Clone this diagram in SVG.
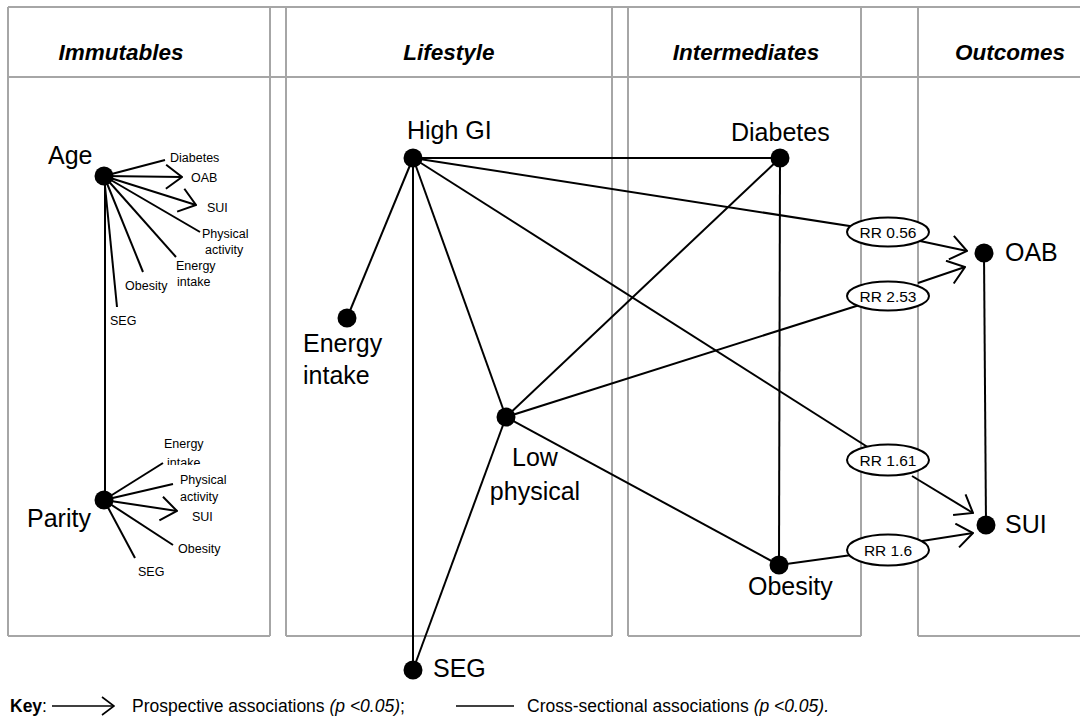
<svg xmlns="http://www.w3.org/2000/svg" width="1080" height="717" viewBox="0 0 1080 717">
<style>
.frame{stroke:#a6a6a6;stroke-width:2;fill:none}
.hdr{font-family:"Liberation Sans",Arial,sans-serif;font-size:22.5px;font-weight:bold;font-style:italic;text-anchor:middle;fill:#000}
.lbl{font-family:"Liberation Sans",Arial,sans-serif;font-size:25px;fill:#000}
.sm{font-family:"Liberation Sans",Arial,sans-serif;font-size:12.5px;fill:#000}
.rr{font-family:"Liberation Sans",Arial,sans-serif;font-size:15.5px;fill:#000;text-anchor:middle}
.key{font-family:"Liberation Sans",Arial,sans-serif;font-size:17.5px;fill:#000}
.ln{stroke:#000;stroke-width:2;fill:none}
.arr{stroke:#000;stroke-width:2;fill:none;marker-end:url(#oa)}
.dot{fill:#000}
.ell{fill:#fff;stroke:#000;stroke-width:2}
</style>
<defs>
<marker id="oa" viewBox="0 0 18 26" markerWidth="18" markerHeight="26" refX="17" refY="13" orient="auto" markerUnits="userSpaceOnUse">
<path d="M1,1 L17,13 L1,25" fill="none" stroke="#000" stroke-width="2"/>
</marker>
<marker id="oas" viewBox="0 0 14 20" markerWidth="14" markerHeight="20" refX="13" refY="10" orient="auto" markerUnits="userSpaceOnUse">
<path d="M1,1 L13,10 L1,19" fill="none" stroke="#000" stroke-width="1.6"/>
</marker>
<clipPath id="clipIntake"><rect x="150" y="450" width="80" height="15"/></clipPath>
</defs>
<rect width="1080" height="717" fill="#fff"/>

<g id="table">
<path class="frame" d="M8,7 H1080 M8,77 H1080 M8,7 V636 M270,7 V636 M286,7 V636 M612,7 V636 M628,7 V636 M861,7 V636 M918,7 V636 M8,636 H270 M286,636 H612 M628,636 H861 M918,636 H1080"/>
<text class="hdr" x="121" y="60">Immutables</text>
<text class="hdr" x="449" y="60">Lifestyle</text>
<text class="hdr" x="746" y="60">Intermediates</text>
<text class="hdr" x="1010" y="60">Outcomes</text>
</g>

<g id="connectors">
<line class="ln" x1="105" y1="176" x2="105" y2="500"/>
<line class="ln" x1="104" y1="176" x2="165" y2="160"/>
<line class="arr" x1="104" y1="176" x2="182" y2="177"/>
<line class="arr" x1="104" y1="176" x2="196" y2="205"/>
<line class="ln" x1="104" y1="176" x2="200" y2="232"/>
<line class="ln" x1="104" y1="176" x2="176" y2="257"/>
<line class="ln" x1="104" y1="176" x2="143" y2="272"/>
<line class="ln" x1="104" y1="176" x2="117" y2="307"/>
<line class="ln" x1="104" y1="500" x2="163" y2="463"/>
<line class="ln" x1="104" y1="500" x2="173" y2="484"/>
<line class="arr" x1="104" y1="500" x2="177" y2="511"/>
<line class="ln" x1="104" y1="500" x2="173" y2="545"/>
<line class="ln" x1="104" y1="500" x2="135" y2="558"/>
<line class="ln" x1="413" y1="158" x2="780" y2="158"/>
<line class="ln" x1="413" y1="158" x2="888" y2="232"/>
<line class="ln" x1="413" y1="158" x2="347" y2="318"/>
<line class="ln" x1="413" y1="158" x2="506" y2="417"/>
<line class="ln" x1="413" y1="158" x2="413" y2="670"/>
<line class="ln" x1="413" y1="158" x2="888" y2="460"/>
<line class="ln" x1="506" y1="417" x2="780" y2="158"/>
<line class="ln" x1="506" y1="417" x2="888" y2="296"/>
<line class="ln" x1="506" y1="417" x2="779" y2="565"/>
<line class="ln" x1="506" y1="417" x2="413" y2="670"/>
<line class="ln" x1="780" y1="158" x2="779" y2="565"/>
<line class="ln" x1="779" y1="565" x2="888" y2="550"/>
<line class="ln" x1="984" y1="253" x2="986" y2="525"/>
<line class="arr" x1="920" y1="241" x2="967" y2="251"/>
<line class="arr" x1="918" y1="283" x2="965" y2="267"/>
<line class="arr" x1="912" y1="476" x2="973" y2="513"/>
<line class="arr" x1="922" y1="541" x2="973" y2="533"/>
</g>

<g id="rr056"><ellipse class="ell" cx="888" cy="232" rx="41" ry="14.5"/><text class="rr" x="888" y="237.5">RR 0.56</text></g>
<g id="rr253"><ellipse class="ell" cx="888" cy="296" rx="41" ry="14.5"/><text class="rr" x="888" y="301.5">RR 2.53</text></g>
<g id="rr161"><ellipse class="ell" cx="888" cy="460" rx="41" ry="15.5"/><text class="rr" x="888" y="465.5">RR 1.61</text></g>
<g id="rr16"><ellipse class="ell" cx="888" cy="550" rx="41" ry="15.5"/><text class="rr" x="888" y="555.5">RR 1.6</text></g>

<g id="age"><circle class="dot" cx="104" cy="176" r="9.5"/><text class="lbl" x="48" y="164">Age</text></g>
<g id="age-targets">
<text class="sm" x="170" y="161.5">Diabetes</text>
<text class="sm" x="191" y="181.5">OAB</text>
<text class="sm" x="207" y="211.5">SUI</text>
<text class="sm" x="202" y="237.5">Physical</text>
<text class="sm" x="205" y="254">activity</text>
<text class="sm" x="176" y="270">Energy</text>
<text class="sm" x="177" y="286">intake</text>
<text class="sm" x="125" y="290">Obesity</text>
<text class="sm" x="110" y="325">SEG</text>
</g>
<g id="parity"><circle class="dot" cx="104" cy="500" r="9.5"/><text class="lbl" x="27" y="527">Parity</text></g>
<g id="parity-targets">
<text class="sm" x="164" y="448">Energy</text>
<text class="sm" x="167" y="467" clip-path="url(#clipIntake)">intake</text>
<text class="sm" x="180" y="484">Physical</text>
<text class="sm" x="180" y="501">activity</text>
<text class="sm" x="192" y="521">SUI</text>
<text class="sm" x="178" y="553">Obesity</text>
<text class="sm" x="138" y="576">SEG</text>
</g>

<g id="highgi"><circle class="dot" cx="413" cy="158" r="9.5"/><text class="lbl" x="407" y="139">High GI</text></g>
<g id="energy"><circle class="dot" cx="347" cy="318" r="9.5"/><text class="lbl" x="303" y="352">Energy</text><text class="lbl" x="303" y="384">intake</text></g>
<g id="lowphys"><circle class="dot" cx="506" cy="417" r="9.5"/><text class="lbl" x="535" y="466" text-anchor="middle">Low</text><text class="lbl" x="535" y="500" text-anchor="middle">physical</text></g>
<g id="seg"><circle class="dot" cx="413" cy="670" r="9.5"/><text class="lbl" x="433" y="677">SEG</text></g>
<g id="diabetes"><circle class="dot" cx="780" cy="158" r="9.5"/><text class="lbl" x="731" y="141">Diabetes</text></g>
<g id="obesity"><circle class="dot" cx="779" cy="565" r="9.5"/><text class="lbl" x="748" y="595">Obesity</text></g>
<g id="oab"><circle class="dot" cx="984" cy="253" r="9.5"/><text class="lbl" x="1005" y="261">OAB</text></g>
<g id="sui"><circle class="dot" cx="986" cy="525" r="9.5"/><text class="lbl" x="1005" y="533">SUI</text></g>

<g id="key">
<text class="key" x="10" y="712"><tspan font-weight="bold">Key</tspan>:</text>
<line x1="52" y1="706" x2="114" y2="706" stroke="#000" stroke-width="1.6" marker-end="url(#oas)"/>
<text class="key" x="132" y="712">Prospective associations <tspan font-style="italic">(p &lt;0.05)</tspan>;</text>
<line x1="456" y1="706" x2="514" y2="706" stroke="#000" stroke-width="1.6"/>
<text class="key" x="527" y="712">Cross-sectional associations <tspan font-style="italic">(p &lt;0.05).</tspan></text>
</g>
</svg>
